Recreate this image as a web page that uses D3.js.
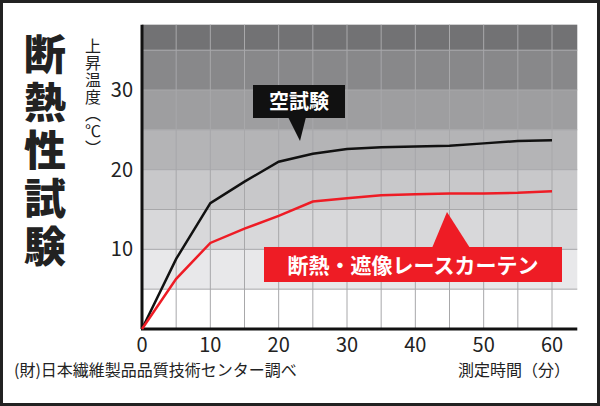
<!DOCTYPE html>
<html><head><meta charset="utf-8">
<script src="https://cdn.jsdelivr.net/npm/d3@7"></script>
<style>body{margin:0;background:#fff}text{font-family:"Noto Sans CJK JP","Noto Sans",sans-serif}</style>
</head><body><div id="chart"></div>
<script>
const minutes = [0, 5, 10, 15, 20, 25, 30, 35, 40, 45, 50, 55, 60];
const blank = [0, 8.8, 15.8, 18.5, 21, 22, 22.6, 22.8, 22.9, 23, 23.3, 23.6, 23.7];
const curtain = [0, 6.3, 10.8, 12.6, 14.2, 16, 16.4, 16.8, 16.9, 17, 17, 17.1, 17.3];
const xTicks = [0, 10, 20, 30, 40, 50, 60];
const yTicks = [10, 20, 30];
const bands = [[0, 5, "#ffffff"], [5, 10, "#e8e8ea"], [10, 15, "#d8d8da"], [15, 20, "#c8c8ca"],
  [20, 25, "#b4b4b6"], [25, 30, "#9e9ea0"], [30, 35, "#88888a"], [35, 38.2, "#727274"]];

const width = 600, height = 406;
const svg = d3.select("#chart").append("svg").attr("width", width).attr("height", height);
svg.append("rect").attr("x", 1.5).attr("y", 1.5).attr("width", width - 3).attr("height", height - 3)
  .attr("fill", "#fff").attr("stroke", "#222").attr("stroke-width", 3);

const x = d3.scaleLinear().domain([0, 60]).range([142, 552]);
const y = d3.scaleLinear().domain([0, 30]).range([329, 90]);
const xEnd = x(63.7), yTop = y(38.2);

svg.selectAll("rect.band").data(bands).enter().append("rect")
  .attr("x", x(0)).attr("width", xEnd - x(0))
  .attr("y", d => y(d[1])).attr("height", d => y(d[0]) - y(d[1]))
  .attr("fill", d => d[2]);

// grid
svg.selectAll("line.v").data(d3.range(5, 64, 5)).enter().append("line")
  .attr("x1", d => x(d)).attr("x2", d => x(d)).attr("y1", yTop).attr("y2", y(0))
  .attr("stroke", "#a8a8aa").attr("stroke-width", 1);
svg.selectAll("line.h").data(d3.range(5, 38, 5)).enter().append("line")
  .attr("x1", x(0)).attr("x2", xEnd).attr("y1", d => y(d)).attr("y2", d => y(d))
  .attr("stroke", "#a8a8aa").attr("stroke-width", 1);

// axes
svg.append("line").attr("x1", x(0)).attr("x2", x(0)).attr("y1", yTop).attr("y2", y(0)).attr("stroke", "#111").attr("stroke-width", 3);
svg.append("line").attr("x1", x(0) - 1).attr("x2", xEnd).attr("y1", y(0)).attr("y2", y(0)).attr("stroke", "#111").attr("stroke-width", 3);

svg.selectAll("text.xt").data(xTicks).enter().append("text")
  .attr("x", d => x(d)).attr("y", 352).attr("text-anchor", "middle")
  .attr("font-family", "Roboto").attr("font-size", 20).attr("fill", "#222").text(d => d);
svg.selectAll("text.yt").data(yTicks).enter().append("text")
  .attr("x", 133).attr("y", d => y(d) + 7).attr("text-anchor", "end")
  .attr("font-family", "Roboto").attr("font-size", 20).attr("fill", "#222").text(d => d);

// lines
const line = d3.line().x((d, i) => x(minutes[i])).y(d => y(d));
svg.append("path").datum(blank).attr("d", line).attr("fill", "none").attr("stroke", "#111").attr("stroke-width", 2.5);
svg.append("path").datum(curtain).attr("d", line).attr("fill", "none").attr("stroke", "#ee1c25").attr("stroke-width", 2.5);

// callouts
svg.append("path").attr("d", "M288,117 L306,117 L300,141 Z").attr("fill", "#111");
svg.append("rect").attr("x", 253).attr("y", 85).attr("width", 92).attr("height", 33).attr("fill", "#111");
svg.append("text").attr("x", 299).attr("y", 109).attr("text-anchor", "middle").attr("font-size", 20)
  .attr("font-weight", "bold").attr("fill", "#fff").text("空試験");

svg.append("path").attr("d", "M432,248 L447,212 L470,248 Z").attr("fill", "#ee1c25");
svg.append("rect").attr("x", 264).attr("y", 247).attr("width", 298).attr("height", 35).attr("fill", "#ee1c25");
svg.append("text").attr("x", 413).attr("y", 273).attr("text-anchor", "middle").attr("font-size", 21)
  .attr("font-weight", "bold").attr("fill", "#fff").text("断熱・遮像レースカーテン");

// titles
svg.selectAll("text.title").data("断熱性試験".split("")).enter().append("text")
  .attr("x", 45).attr("y", (d, i) => 70 + i * 48).attr("text-anchor", "middle")
  .attr("font-size", 42).attr("font-weight", "900").attr("fill", "#222").text(d => d);
svg.selectAll("text.ylab").data(["上", "昇", "温", "度", "︵", "℃", "︶"]).enter().append("text")
  .attr("x", 93).attr("y", (d, i) => 52 + i * 17).attr("text-anchor", "middle")
  .attr("font-size", 16).attr("fill", "#222").text(d => d);

svg.append("text").attr("x", 14).attr("y", 376).attr("font-size", 16).attr("fill", "#222")
  .text("(財)日本繊維製品品質技術センター調べ");
svg.append("text").attr("x", 570).attr("y", 376).attr("text-anchor", "end").attr("font-size", 16).attr("fill", "#222")
  .text("測定時間（分）");
</script></body></html>
